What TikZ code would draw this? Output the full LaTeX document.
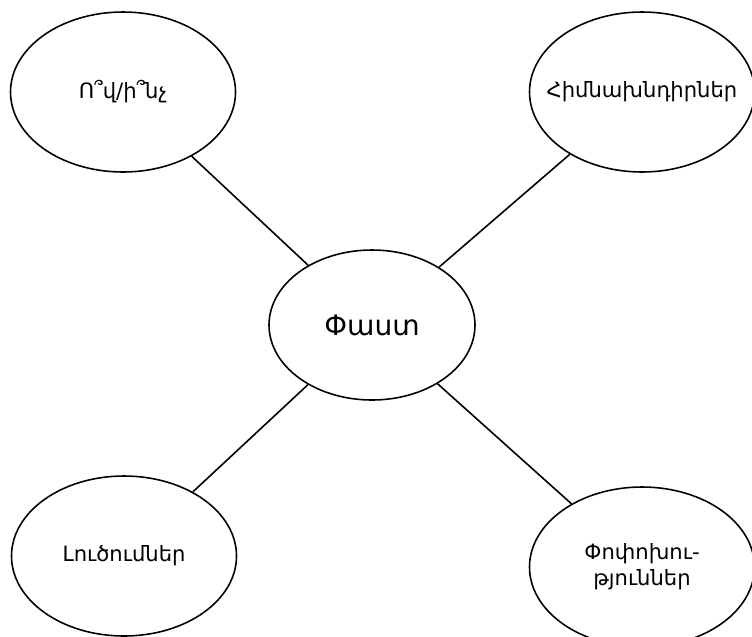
\documentclass[tikz,border=0pt]{standalone}
\usepackage{fontspec}
\setmainfont{DejaVu Sans}
\usetikzlibrary{calc, shapes.geometric}

\begin{document}
\begin{tikzpicture}
        \useasboundingbox (0, 0) rectangle (15.04, -12.72);

        \coordinate (R) at (7.44, -6.5);

        \tikzstyle{e} = [draw, ellipse, line width=0.9pt, inner sep=0pt, align=center];
        \tikzstyle{c} = [e, minimum width=4.12cm, minimum height=3.0cm, font=\fontsize{16}{19}\selectfont];
        \tikzstyle{o} = [e, minimum width=4.5cm, minimum height=3.2cm, font=\fontsize{12}{14.8}\selectfont];

        \node [c] (F) at (R) {Փաստ};

        \node [o] (F1) at ($(R) + (-4.98,  4.66)$) {Ո՞վ/ի՞նչ};
        \node [o] (F2) at ($(R) + ( 5.40,  4.66)$) {\makebox[0pt]{Հիմնախնդիրներ}};
        \node [o] (F3) at ($(R) + (-4.96, -4.62)$) {Լուծումներ};
        \node [o] (F4) at ($(R) + ( 5.40, -4.84)$) {Փոփոխու-\\թյուններ};

        \foreach \na in {1, ..., 4}{
            \draw [line width=0.9pt] (F) -- (F\na);
        }
    \end{tikzpicture}
\end{document}
